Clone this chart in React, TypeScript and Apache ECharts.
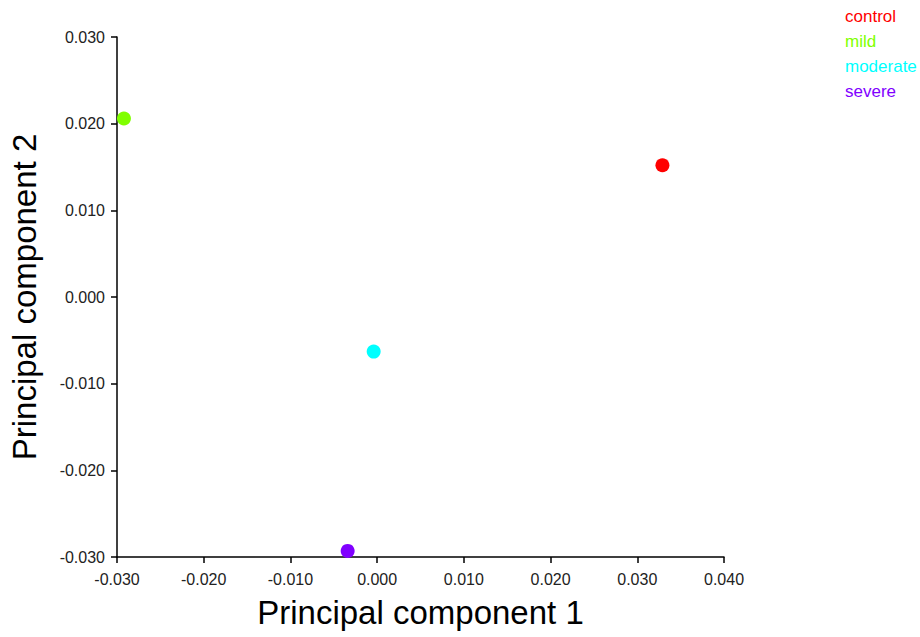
import React, { useEffect, useRef } from "react";
import * as echarts from "echarts";

const groups = ["control", "mild", "moderate", "severe"];
const pc1 = [0.0329, -0.0292, -0.0004, -0.0034];
const pc2 = [0.0152, 0.0206, -0.0063, -0.0293];
const groupColors = ["#ff0000", "#80ff00", "#00ffff", "#8000ff"];

const xTitle = "Principal component 1";
const yTitle = "Principal component 2";

const FONT = "'Liberation Sans', Arial, sans-serif";

export default function App() {
  const ref = useRef<HTMLDivElement>(null);
  useEffect(() => {
    if (!ref.current) return;
    const chart = echarts.init(ref.current, undefined, { renderer: "svg" });
    const axisCommon = {
      type: "value" as const,
      nameLocation: "middle" as const,
      nameTextStyle: { fontSize: 33, color: "#000", fontFamily: FONT },
      axisLine: { show: true, onZero: false, lineStyle: { color: "#000", width: 1.5 } },
      axisTick: { show: true, length: 6, lineStyle: { color: "#000", width: 1.5 } },
      splitLine: { show: false },
      axisLabel: {
        fontSize: 16,
        color: "#222",
        fontFamily: FONT,
        formatter: (v: number) => {
          const s = v.toFixed(3);
          return s === "-0.000" ? "0.000" : s;
        },
      },
    };
    chart.setOption({
      animation: false,
      backgroundColor: "#fff",
      textStyle: { fontFamily: FONT },
      grid: { left: 116, right: 196, top: 37, bottom: 80, containLabel: false },
      legend: {
        orient: "vertical",
        left: 835,
        top: 3,
        icon: "none",
        itemWidth: 0,
        itemHeight: 17,
        itemGap: 8,
        selectedMode: false,
        textStyle: { fontSize: 17, fontFamily: FONT },
        data: groups.map((g, i) => ({ name: g, textStyle: { color: groupColors[i] } })),
      },
      xAxis: {
        ...axisCommon,
        name: xTitle,
        nameGap: 39,
        min: -0.03,
        max: 0.04,
        interval: 0.01,
        axisLabel: { ...axisCommon.axisLabel, margin: 14 },
      },
      yAxis: {
        ...axisCommon,
        name: yTitle,
        nameGap: 76,
        min: -0.03,
        max: 0.03,
        interval: 0.01,
        axisLabel: { ...axisCommon.axisLabel, margin: 12 },
      },
      series: groups.map((g, i) => ({
        name: g,
        type: "scatter",
        symbol: "circle",
        symbolSize: 14,
        itemStyle: { color: groupColors[i], opacity: 1 },
        data: [[pc1[i], pc2[i]]],
      })),
    });
    return () => chart.dispose();
  }, []);
  return (
    <div
      ref={ref}
      style={{ position: "fixed", left: 0, top: 0, width: 920, height: 637, background: "#fff" }}
    />
  );
}
